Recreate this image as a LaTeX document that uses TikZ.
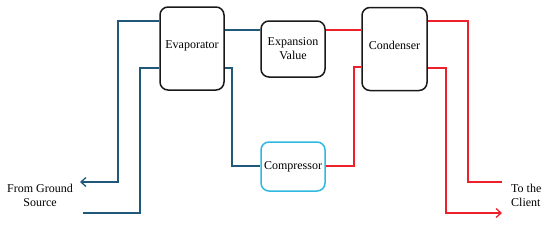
\documentclass[tikz,border=0pt]{standalone}
\usepackage{fontspec}
\setmainfont{Liberation Serif}
\usetikzlibrary{arrows.meta}
\definecolor{bl}{RGB}{32,88,122}
\definecolor{rd}{RGB}{238,32,44}
\definecolor{cy}{RGB}{45,185,225}
\begin{document}
\begin{tikzpicture}[x=1pt,y=-1pt,
  box/.style={draw=black!90, line width=1.5pt, rounded corners=8pt, inner sep=0pt,
    align=center, font=\fontsize{12}{14}\selectfont},
  bline/.style={draw=bl, line width=1.4pt},
  rline/.style={draw=rd, line width=1.4pt},
  tip/.style={-{Straight Barb[length=5pt,width=9pt,line width=1.3pt]}},
  lbl/.style={inner sep=0pt, font=\fontsize{12}{14}\selectfont}]
\useasboundingbox (0,0) rectangle (550,225);
\node[box, minimum width=64pt, minimum height=83pt] (evap) at (192,48.5) {\raisebox{0pt}[0pt][0pt]{Evaporator}};
\node[box, minimum width=64pt, minimum height=56pt] (exp) at (293,49) {Expansion\\Value};
\node[box, minimum width=65pt, minimum height=83pt] (cond) at (394.5,49) {\raisebox{0pt}[0pt][0pt]{Condenser}};
\node[box, draw=cy, minimum width=64pt, minimum height=49pt] (comp) at (293,166.5) {Compressor};
\node[lbl, align=center] (from) at (40,195) {From Ground\\Source};
\node[lbl, align=left, anchor=west] (to) at (511,195) {To the\\Client};
\coordinate (gout) at (80,182);
\coordinate (gin) at (83,213);
\coordinate (cout) at (502,182);
\coordinate (cin) at (502,213);
% blue
\draw[bline, tip] (evap.west |- 0,21) -- (118,21) -- (118,182) -- (gout);
\draw[bline] (evap.west |- 0,68) -- (140,68) -- (140,213) -- (gin);
\draw[bline] (evap.east |- 0,30) -- (exp.west |- 0,30);
\draw[bline] (evap.east |- 0,68) -- (232,68) -- (232,166) -- (comp.west |- 0,166);
% red
\draw[rline] (exp.east |- 0,30) -- (cond.west |- 0,30);
\draw[rline] (comp.east |- 0,166) -- (354,166) -- (354,67) -- (cond.west |- 0,67);
\draw[rline] (cond.east |- 0,21) -- (468,21) -- (468,182) -- (cout);
\draw[rline, tip] (cond.east |- 0,68) -- (446,68) -- (446,213) -- (cin);
\end{tikzpicture}
\end{document}
